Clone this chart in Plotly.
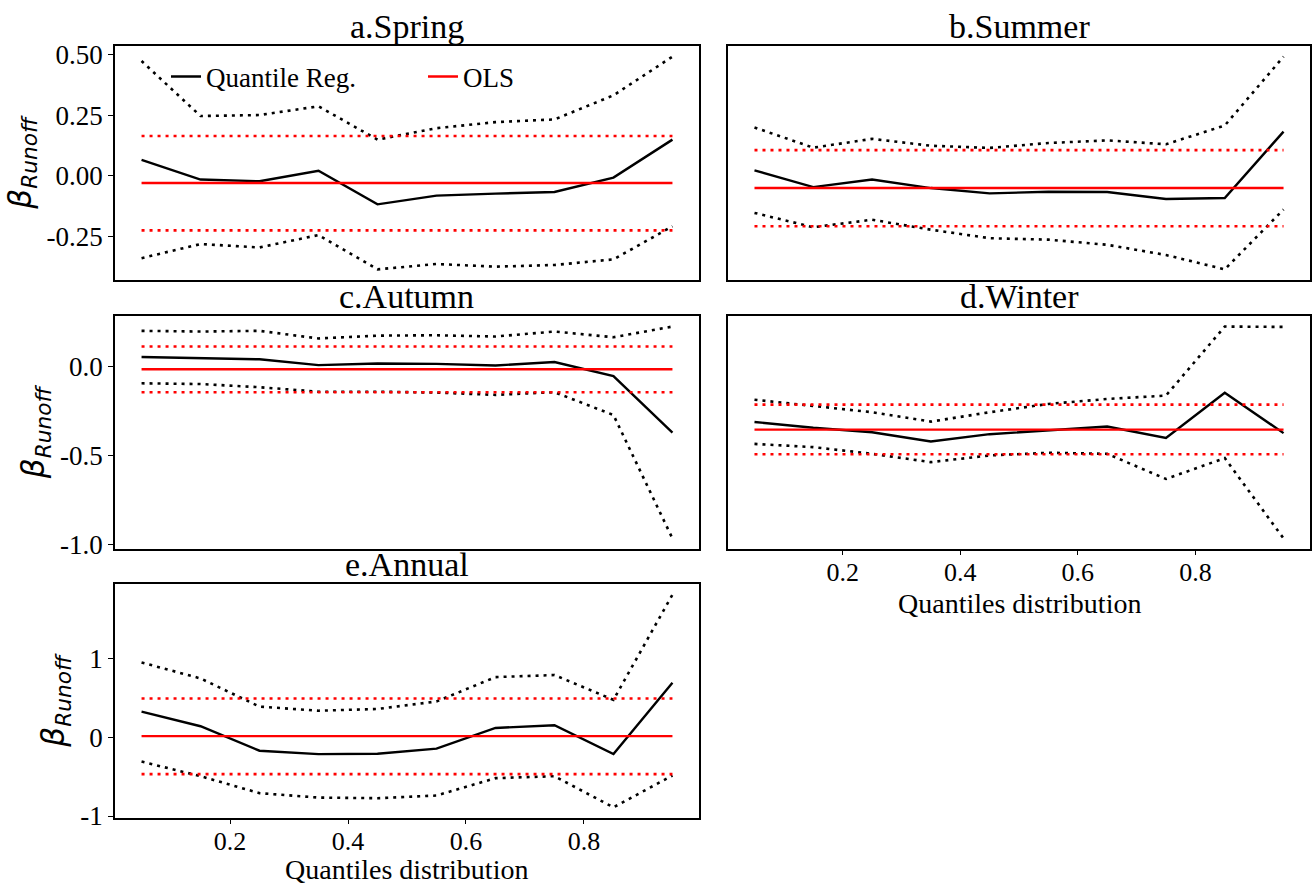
import plotly.graph_objects as go

# ---------------- data ----------------
quantiles = [0.05, 0.15, 0.25, 0.35, 0.45, 0.55, 0.65, 0.75, 0.85, 0.95]

panel_titles = ["a.Spring", "b.Summer", "c.Autumn", "d.Winter", "e.Annual"]

spring_qr = [0.066, -0.015, -0.022, 0.021, -0.117, -0.081, -0.073, -0.066, -0.007, 0.149]
spring_up = [0.472, 0.246, 0.250, 0.286, 0.149, 0.196, 0.221, 0.232, 0.331, 0.490]
spring_lo = [-0.338, -0.280, -0.294, -0.243, -0.384, -0.362, -0.373, -0.366, -0.343, -0.207]
spring_ols = -0.029
spring_ols_up = 0.164
spring_ols_lo = -0.224

summer_qr = [0.023, -0.046, -0.015, -0.050, -0.072, -0.065, -0.066, -0.095, -0.091, 0.182]
summer_up = [0.199, 0.116, 0.152, 0.124, 0.115, 0.135, 0.146, 0.130, 0.207, 0.490]
summer_lo = [-0.152, -0.211, -0.180, -0.221, -0.256, -0.262, -0.283, -0.325, -0.384, -0.138]
summer_ols = -0.050
summer_ols_up = 0.106
summer_ols_lo = -0.207

autumn_qr = [0.054, 0.049, 0.041, 0.008, 0.017, 0.015, 0.006, 0.026, -0.054, -0.371]
autumn_up = [0.201, 0.197, 0.201, 0.158, 0.174, 0.176, 0.169, 0.197, 0.165, 0.225]
autumn_lo = [-0.094, -0.098, -0.116, -0.141, -0.141, -0.146, -0.159, -0.144, -0.272, -0.966]
autumn_ols = -0.015
autumn_ols_up = 0.113
autumn_ols_lo = -0.144

winter_qr = [-0.308, -0.341, -0.366, -0.418, -0.377, -0.355, -0.334, -0.398, -0.143, -0.371]
winter_up = [-0.182, -0.216, -0.253, -0.306, -0.253, -0.206, -0.178, -0.159, 0.231, 0.229]
winter_lo = [-0.432, -0.450, -0.488, -0.535, -0.497, -0.482, -0.488, -0.630, -0.512, -0.966]
winter_ols = -0.351
winter_ols_up = -0.210
winter_ols_lo = -0.490

annual_qr = [0.323, 0.138, -0.172, -0.215, -0.211, -0.146, 0.116, 0.151, -0.215, 0.688]
annual_up = [0.946, 0.744, 0.387, 0.335, 0.357, 0.452, 0.761, 0.787, 0.473, 1.806]
annual_lo = [-0.310, -0.495, -0.710, -0.766, -0.774, -0.740, -0.520, -0.495, -0.890, -0.486]
annual_ols = 0.013
annual_ols_up = 0.490
annual_ols_lo = -0.469

x_tickvals = [0.2, 0.4, 0.6, 0.8]
x_ticktext = ["0.2", "0.4", "0.6", "0.8"]
spring_yticks = [-0.25, 0.0, 0.25, 0.5]
spring_ytext = ["-0.25", "0.00", "0.25", "0.50"]
autumn_yticks = [-1.0, -0.5, 0.0]
autumn_ytext = ["-1.0", "-0.5", "0.0"]
annual_yticks = [-1, 0, 1]
annual_ytext = ["-1", "0", "1"]

# ---------------- figure ----------------
W, H = 1312, 887
ML, MR, MT, MB = 115, 2, 46, 69
PW, PH = W - ML - MR, H - MT - MB
SERIF = "Liberation Serif, Times New Roman, serif"

panels = [
    (spring_qr, spring_up, spring_lo, spring_ols, spring_ols_up, spring_ols_lo,
     [0, 0.4887], [0.6969, 1.0], spring_yticks, spring_ytext, False),
    (summer_qr, summer_up, summer_lo, summer_ols, summer_ols_up, summer_ols_lo,
     [0.5130, 1.0], [0.6969, 1.0], None, None, False),
    (autumn_qr, autumn_up, autumn_lo, autumn_ols, autumn_ols_up, autumn_ols_lo,
     [0, 0.4887], [0.3484, 0.6503], autumn_yticks, autumn_ytext, False),
    (winter_qr, winter_up, winter_lo, winter_ols, winter_ols_up, winter_ols_lo,
     [0.5130, 1.0], [0.3484, 0.6503], None, None, True),
    (annual_qr, annual_up, annual_lo, annual_ols, annual_ols_up, annual_ols_lo,
     [0, 0.4887], [0.0, 0.3031], annual_yticks, annual_ytext, True),
]

# pixel rows (from top) of the bottom edge of the x-axis title boxes
xtitle_bottom_px = {3: 621, 4: 887}

fig = go.Figure()
layout = dict(
    width=W, height=H, autosize=False,
    margin=dict(l=ML, r=MR, t=MT, b=MB, pad=0),
    paper_bgcolor="white", plot_bgcolor="white",
    font=dict(family=SERIF, size=26, color="black"),
    showlegend=True,
    legend=dict(
        orientation="h", x=(166 - ML) / PW, y=(H - MB - 77) / PH,
        xanchor="left", yanchor="middle",
        font=dict(family=SERIF, size=27, color="black"),
        bgcolor="rgba(0,0,0,0)", borderwidth=0,
        entrywidth=212, entrywidthmode="pixels",
        itemwidth=30,
    ),
)

annotations = []
dot_pat = "3px,5px"
for i, (qr, up, lo, ols, ols_up, ols_lo, xd, yd, yt, ytt, showx) in enumerate(panels):
    n = i + 1
    xa = "x" if n == 1 else f"x{n}"
    ya = "y" if n == 1 else f"y{n}"
    first = (i == 0)
    n_pts = len(quantiles)
    fig.add_trace(go.Scatter(x=quantiles, y=up, xaxis=xa, yaxis=ya, mode="lines",
                             line=dict(color="black", width=2.6, dash=dot_pat),
                             showlegend=False, hoverinfo="skip"))
    fig.add_trace(go.Scatter(x=quantiles, y=lo, xaxis=xa, yaxis=ya, mode="lines",
                             line=dict(color="black", width=2.6, dash=dot_pat),
                             showlegend=False, hoverinfo="skip"))
    fig.add_trace(go.Scatter(x=quantiles, y=qr, xaxis=xa, yaxis=ya, mode="lines",
                             line=dict(color="black", width=2.4),
                             name="Quantile Reg.", showlegend=first))
    fig.add_trace(go.Scatter(x=quantiles, y=[ols] * n_pts, xaxis=xa, yaxis=ya, mode="lines",
                             line=dict(color="#ff0000", width=2.4),
                             name="OLS", showlegend=first))
    fig.add_trace(go.Scatter(x=quantiles, y=[ols_up] * n_pts, xaxis=xa, yaxis=ya, mode="lines",
                             line=dict(color="#ff0000", width=2.6, dash=dot_pat),
                             showlegend=False, hoverinfo="skip"))
    fig.add_trace(go.Scatter(x=quantiles, y=[ols_lo] * n_pts, xaxis=xa, yaxis=ya, mode="lines",
                             line=dict(color="#ff0000", width=2.6, dash=dot_pat),
                             showlegend=False, hoverinfo="skip"))

    allv = up + lo + qr + [ols, ols_up, ols_lo]
    vmin, vmax = min(allv), max(allv)
    span = vmax - vmin
    yrange = [vmin - 0.05 * span, vmax + 0.05 * span]

    xkey = "xaxis" if n == 1 else f"xaxis{n}"
    ykey = "yaxis" if n == 1 else f"yaxis{n}"
    xaxis = dict(
        domain=xd, anchor=ya, range=[0.005, 0.995], showgrid=False, zeroline=False,
        showline=True, linecolor="black", linewidth=1.6, mirror=True,
        tickvals=x_tickvals, ticktext=x_ticktext,
        showticklabels=showx, ticks="outside" if showx else "",
        ticklen=4, tickwidth=1.3, tickcolor="black", ticklabelstandoff=-5,
        tickfont=dict(family=SERIF, size=26, color="black"),
        automargin=False,
    )
    yaxis = dict(
        domain=yd, anchor=xa, range=yrange, showgrid=False, zeroline=False,
        showline=True, linecolor="black", linewidth=1.6, mirror=True,
        automargin=False,
    )
    if yt is not None:
        yaxis.update(tickvals=yt, ticktext=ytt, ticks="outside", ticklen=5, tickwidth=1.3,
                     tickcolor="black", showticklabels=True,
                     tickfont=dict(family=SERIF, size=27, color="black"),
                     title=dict(text="<i>β</i><sub><i>Runoff</i></sub>",
                                font=dict(family="DejaVu Sans", size=31, color="black"),
                                standoff=6))
    else:
        yaxis.update(showticklabels=False, ticks="")
    layout[xkey] = xaxis
    layout[ykey] = yaxis

    annotations.append(dict(
        text=panel_titles[i], xref="paper", yref="paper",
        x=(xd[0] + xd[1]) / 2, y=yd[1], xanchor="center", yanchor="bottom",
        yshift=-1, showarrow=False, font=dict(family=SERIF, size=34, color="black"),
    ))
    if showx:
        annotations.append(dict(
            text="Quantiles distribution", xref="paper", yref="paper",
            x=(xd[0] + xd[1]) / 2, y=(H - MB - xtitle_bottom_px[i]) / PH,
            xanchor="center", yanchor="bottom", showarrow=False,
            font=dict(family=SERIF, size=28, color="black"),
        ))

layout["annotations"] = annotations
fig.update_layout(**layout)
fig.write_html("out.html")
